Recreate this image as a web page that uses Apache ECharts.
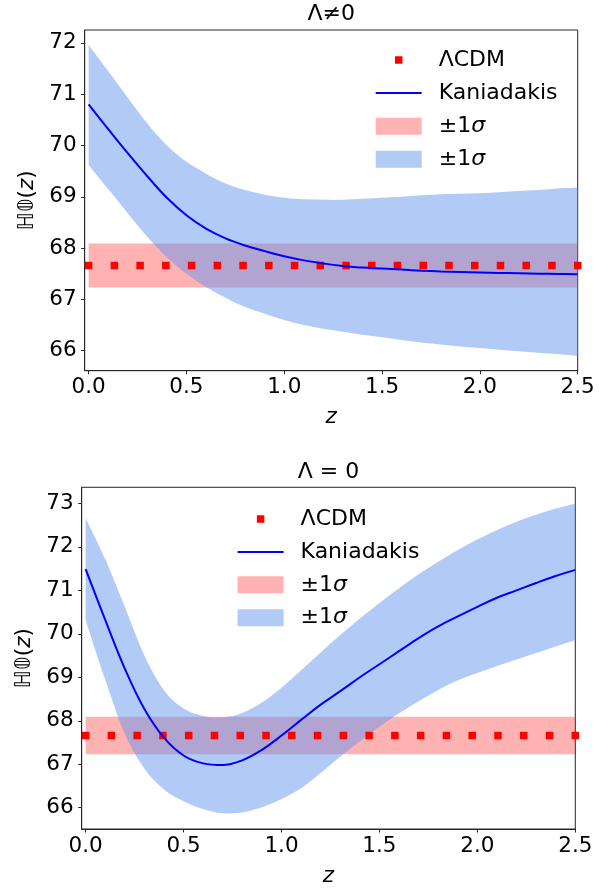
<!DOCTYPE html>
<html>
<head>
<meta charset="utf-8">
<script src="https://cdn.jsdelivr.net/npm/echarts@6.0.0/dist/echarts.min.js"></script>
<style>
  html, body { margin: 0; padding: 0; background: #fff; }
  #chart { width: 611px; height: 892px; }
</style>
</head>
<body>
<div id="chart"></div>
<script>
// Redshift grid on which the Kaniadakis reconstruction is sampled
const zGrid = [0.0, 0.1, 0.2, 0.3, 0.4, 0.5, 0.6, 0.7, 0.8, 0.9, 1.0, 1.1, 1.2,
               1.3, 1.4, 1.5, 1.6, 1.7, 1.8, 1.9, 2.0, 2.1, 2.2, 2.3, 2.4, 2.5];

// Redshifts of the ΛCDM reference markers
const lcdmZ = [0.0, 0.1316, 0.2632, 0.3947, 0.5263, 0.6579, 0.7895, 0.9211, 1.0526, 1.1842,
               1.3158, 1.4474, 1.5789, 1.7105, 1.8421, 1.9737, 2.1053, 2.2368, 2.3684, 2.5];
const lcdmH0 = 67.66;
const lcdmLow = 67.23;
const lcdmHigh = 68.09;
const lcdmBandZ = [0.0, 2.5];

// Λ ≠ 0 : Kaniadakis H0(z) with its 1σ band
const kanTopMean = [70.80, 70.32, 69.85, 69.40, 68.98, 68.64, 68.38, 68.19, 68.05, 67.94, 67.84, 67.76, 67.70,
                    67.65, 67.62, 67.60, 67.58, 67.56, 67.545, 67.535, 67.525, 67.515, 67.51, 67.50, 67.495, 67.49];
const kanTopLow  = [69.62, 69.15, 68.68, 68.22, 67.82, 67.50, 67.24, 67.03, 66.85, 66.72, 66.60, 66.50, 66.43,
                    66.37, 66.31, 66.26, 66.21, 66.16, 66.12, 66.08, 66.05, 66.02, 65.99, 65.96, 65.93, 65.90];
const kanTopHigh = [71.96, 71.45, 70.93, 70.43, 70.00, 69.68, 69.45, 69.26, 69.13, 69.04, 68.98, 68.95, 68.94,
                    68.94, 68.96, 68.98, 69.00, 69.03, 69.05, 69.06, 69.07, 69.09, 69.11, 69.13, 69.16, 69.18];

// Λ = 0 : Kaniadakis H0(z) with its 1σ band
const kanBotMean = [71.49, 70.32, 69.20, 68.27, 67.61, 67.20, 67.02, 66.98, 67.09, 67.33, 67.66, 68.02, 68.37,
                    68.68, 69.00, 69.30, 69.60, 69.90, 70.17, 70.40, 70.62, 70.83, 71.00, 71.17, 71.33, 71.47];
const kanBotLow  = [70.32, 68.95, 67.70, 66.90, 66.42, 66.15, 65.97, 65.87, 65.89, 66.01, 66.20, 66.45, 66.80,
                    67.18, 67.53, 67.86, 68.17, 68.45, 68.71, 68.93, 69.10, 69.26, 69.41, 69.56, 69.71, 69.86];
const kanBotHigh = [72.66, 71.72, 70.62, 69.50, 68.70, 68.28, 68.11, 68.08, 68.18, 68.42, 68.76, 69.16, 69.57,
                    69.97, 70.35, 70.71, 71.05, 71.37, 71.66, 71.93, 72.17, 72.39, 72.58, 72.74, 72.88, 73.00];

// Tick labels
const xTicks = [0.0, 0.5, 1.0, 1.5, 2.0, 2.5];
const yTicksTop = [66, 67, 68, 69, 70, 71, 72];
const yTicksBot = [66, 67, 68, 69, 70, 71, 72, 73];

const FONT = 'DejaVu Sans';
const FS = 21.5;      // ticks and axis names
const FS_LEG = 22;    // legend entries
const FS_TITLE = 22;  // panel titles
const INK = '#000';
const SPINE = '#262626';
const RED_FILL = 'rgba(255,0,0,0.3)';
const BLUE_FILL = 'rgba(100,149,237,0.5)';

const pairs = (xs, ys) => xs.map((x, i) => [x, ys[i]]);
const triples = (xs, lo, hi) => xs.map((x, i) => [x, lo[i], hi[i]]);

function makeX(gridIndex) {
  return {
    type: 'value', gridIndex, min: -0.02, max: 2.5,
    axisLine: { show: true, onZero: false, lineStyle: { color: SPINE, width: 1 } },
    axisTick: { show: true, customValues: xTicks, length: 3.5, lineStyle: { color: SPINE, width: 1 } },
    axisLabel: { customValues: xTicks, formatter: v => v.toFixed(1), fontFamily: FONT, fontSize: FS, color: INK, margin: 6 },
    splitLine: { show: false },
    name: 'z', nameLocation: 'middle', nameGap: 36,
    nameTextStyle: { fontFamily: FONT, fontSize: FS, fontStyle: 'italic', color: INK }
  };
}

function makeY(gridIndex, min, max, ticks, gap) {
  return {
    type: 'value', gridIndex, min, max,
    axisLine: { show: true, onZero: false, lineStyle: { color: SPINE, width: 1 } },
    axisTick: { show: true, customValues: ticks, length: 3.5, lineStyle: { color: SPINE, width: 1 } },
    axisLabel: { customValues: ticks, formatter: v => String(Math.round(v)), fontFamily: FONT, fontSize: FS, color: INK, margin: 8 },
    splitLine: { show: false },
    name: '{bb|ℍ𝟘}{r|(}{i|z}{r|)}', nameLocation: 'middle', nameRotate: 90, nameGap: gap,
    nameTextStyle: {
      fontFamily: FONT, fontSize: FS, color: INK,
      rich: {
        bb: { fontFamily: FONT, fontSize: FS, color: INK },
        r: { fontFamily: FONT, fontSize: FS, color: INK },
        i: { fontFamily: FONT, fontSize: FS, color: INK, fontStyle: 'italic' }
      }
    }
  };
}

// Cubic Bezier segments through pixel points (Catmull-Rom tangents).
function curveTo(pts) {
  let d = '';
  for (let i = 0; i < pts.length - 1; i++) {
    const p0 = pts[i - 1] || pts[i];
    const p1 = pts[i];
    const p2 = pts[i + 1];
    const p3 = pts[i + 2] || pts[i + 1];
    const c1x = p1[0] + (p2[0] - p0[0]) / 6, c1y = p1[1] + (p2[1] - p0[1]) / 6;
    const c2x = p2[0] - (p3[0] - p1[0]) / 6, c2y = p2[1] - (p3[1] - p1[1]) / 6;
    d += ` C${c1x},${c1y} ${c2x},${c2y} ${p2[0]},${p2[1]}`;
  }
  return d;
}

// A filled band between a lower and an upper curve, drawn as one closed path
// through the cartesian scales of its grid.
function bandSeries(name, k, xs, lo, hi, fill, z) {
  const rows = triples(xs, lo, hi);
  return {
    name, type: 'custom', coordinateSystem: 'cartesian2d', xAxisIndex: k, yAxisIndex: k,
    data: rows, encode: { x: 0, y: [1, 2] }, clip: true, silent: true, z,
    itemStyle: { color: fill },
    renderItem: (params, api) => {
      if (params.dataIndex !== 0) return null;
      const upper = rows.map(r => api.coord([r[0], r[2]]));
      const lower = rows.map(r => api.coord([r[0], r[1]])).reverse();
      const d = `M${upper[0][0]},${upper[0][1]}` + curveTo(upper) +
                ` L${lower[0][0]},${lower[0][1]}` + curveTo(lower) + ' Z';
      return { type: 'path', shape: { pathData: d }, style: { fill, stroke: null } };
    }
  };
}

function panelSeries(k, mean, low, high) {
  return [
    bandSeries('band-lcdm', k, lcdmBandZ, lcdmBandZ.map(() => lcdmLow), lcdmBandZ.map(() => lcdmHigh), RED_FILL, 1),
    bandSeries('band-kan', k, zGrid, low, high, BLUE_FILL, 2),
    { name: 'ΛCDM', type: 'scatter', xAxisIndex: k, yAxisIndex: k,
      data: lcdmZ.map(z => [z, lcdmH0]), symbol: 'rect', symbolSize: 7.5, clip: true,
      itemStyle: { color: '#ff0000', opacity: 1 }, z: 3 },
    { name: 'Kaniadakis', type: 'line', xAxisIndex: k, yAxisIndex: k,
      data: pairs(zGrid, mean), symbol: 'none', smooth: 0.4,
      lineStyle: { width: 2, color: '#0000ff' }, itemStyle: { color: '#0000ff' }, z: 4 }
  ];
}

const legendText = {
  'ΛCDM': '{s|}{t|ΛCDM}',
  'Kaniadakis': '{s|}{t|Kaniadakis}',
  'band-lcdm': '{s|}{t|±1}{i|σ}',
  'band-kan': '{s|}{t|±1}{i|σ}'
};

function makeLegend(left, top, gap) {
  return {
    orient: 'vertical', left, top, padding: 0,
    itemWidth: 46, itemHeight: 17, itemGap: gap,
    selectedMode: false,
    formatter: name => legendText[name],
    textStyle: {
      fontFamily: FONT, fontSize: FS_LEG, color: INK,
      rich: {
        s: { width: 12 },
        t: { fontFamily: FONT, fontSize: FS_LEG, color: INK, lineHeight: 22 },
        i: { fontFamily: FONT, fontSize: FS_LEG, color: INK, lineHeight: 22, fontStyle: 'italic' }
      }
    },
    data: [
      { name: 'ΛCDM', icon: 'path://M0,0M46,17M19.25,4.75h7.5v7.5h-7.5z',
        itemStyle: { color: '#ff0000', borderWidth: 0, opacity: 1 } },
      { name: 'Kaniadakis', icon: 'path://M0,0M46,17M0,7.5h46v2h-46z',
        itemStyle: { color: '#0000ff', borderWidth: 0, opacity: 1 } },
      { name: 'band-lcdm', icon: 'rect', itemStyle: { color: RED_FILL, borderWidth: 0, opacity: 1 } },
      { name: 'band-kan', icon: 'rect', itemStyle: { color: BLUE_FILL, borderWidth: 0, opacity: 1 } }
    ]
  };
}

const chart = echarts.init(document.getElementById('chart'), null, { renderer: 'canvas' });

chart.setOption({
  animation: false,
  backgroundColor: '#ffffff',
  grid: [
    { left: 84.7, top: 30, width: 493, height: 340.7, show: true, borderColor: SPINE, borderWidth: 1, backgroundColor: 'transparent' },
    { left: 81.7, top: 487.3, width: 493.6, height: 341.7, show: true, borderColor: SPINE, borderWidth: 1, backgroundColor: 'transparent' }
  ],
  xAxis: [makeX(0), makeX(1)],
  yAxis: [makeY(0, 65.61, 72.25, yTicksTop, 44), makeY(1, 65.51, 73.37, yTicksBot, 41)],
  legend: [makeLegend(375.7, 49, 11.1), makeLegend(237.6, 508, 10.9)],
  graphic: [
    { type: 'text', x: 331.2, y: 14.5, style: { text: 'Λ≠0', font: FS_TITLE + 'px "' + FONT + '"', fill: INK, align: 'center', verticalAlign: 'middle' } },
    { type: 'text', x: 328.5, y: 472.5, style: { text: 'Λ = 0', font: FS_TITLE + 'px "' + FONT + '"', fill: INK, align: 'center', verticalAlign: 'middle' } }
  ],
  series: [
    ...panelSeries(0, kanTopMean, kanTopLow, kanTopHigh),
    ...panelSeries(1, kanBotMean, kanBotLow, kanBotHigh)
  ]
});
</script>
</body>
</html>
